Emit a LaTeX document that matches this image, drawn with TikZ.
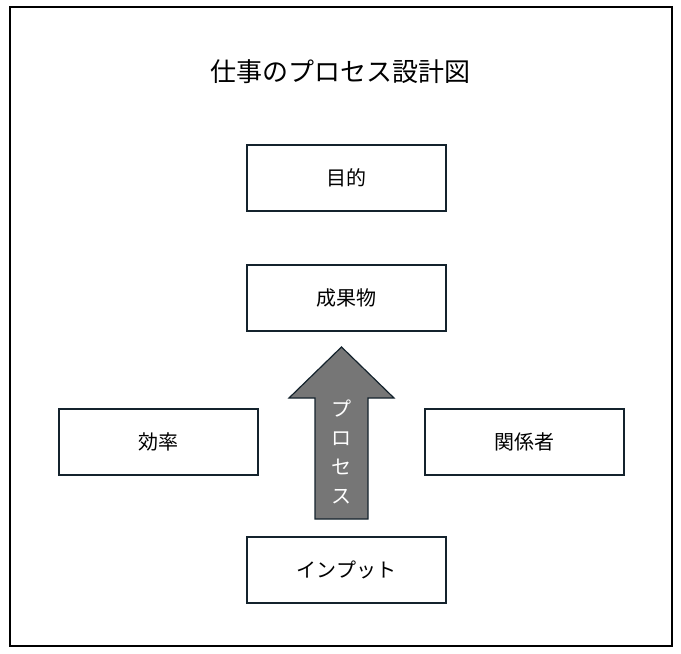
\documentclass[tikz,border=0pt]{standalone}
\usepackage{fontspec}
\setmainfont{Noto Sans CJK JP}
\usetikzlibrary{positioning}
\definecolor{framecol}{RGB}{20,35,45}
\definecolor{arrowgray}{RGB}{118,118,118}
\tikzset{
  box/.style={draw=framecol, line width=1.2pt, minimum width=199pt, minimum height=66pt, inner sep=0pt, font=\fontsize{20}{24}\selectfont},
}
\begin{document}
\begin{tikzpicture}[x=1pt,y=-1pt]
	\useasboundingbox (0,0) rectangle (681,654);
	% outer frame
	\draw [line width=1.2pt, color=black] (10,7) rectangle (672,646);
	% title
	\node (title) at (340,72) [font=\fontsize{26}{30}\selectfont] {仕事のプロセス設計図};
	% boxes
	\node (goal) at (346.5,178) [box] {目的};
	\node (output) at (346.5,298) [box] {成果物};
	\node (effic) at (158.5,442) [box] {効率};
	\node (stake) at (524.5,442) [box] {関係者};
	\node (input) at (346.5,570) [box] {インプット};
	% process arrow
	\draw [draw=framecol, line width=1.2pt, fill=arrowgray] (315,519) -- (315,398) -- (289,398) -- (341.5,347) -- (394,398) -- (368,398) -- (368,519) -- cycle;
	\node (proc) at (341.5,452) [text=white, align=center, font=\fontsize{20}{29}\selectfont] {プ\\ロ\\セ\\ス};
\end{tikzpicture}
\end{document}
